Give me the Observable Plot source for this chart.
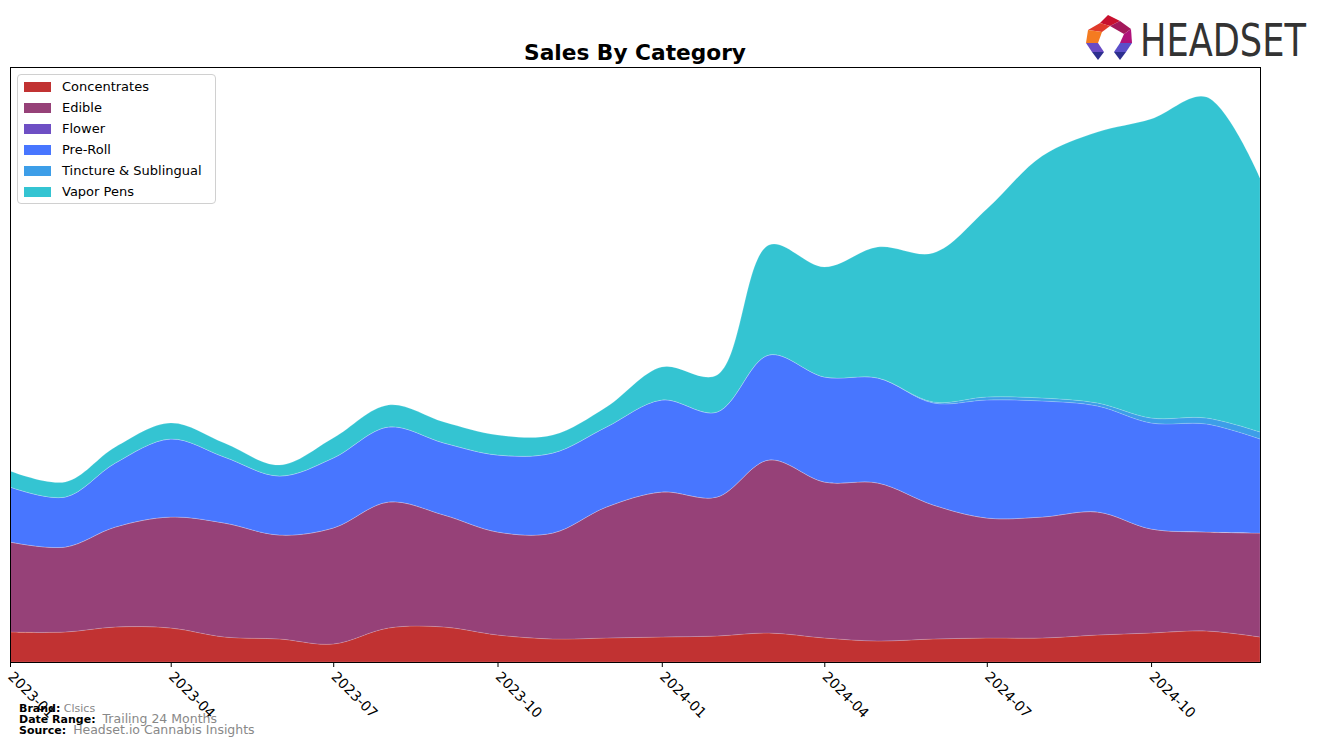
<!DOCTYPE html>
<html>
<head>
<meta charset="utf-8">
<script src="https://cdn.jsdelivr.net/npm/d3@7"></script>
<script src="https://cdn.jsdelivr.net/npm/@observablehq/plot@0.6"></script>
<style>
  html, body { margin: 0; padding: 0; background: #fff; }
  #wrap { position: relative; width: 1324px; height: 748px; font-family: "DejaVu Sans", sans-serif; overflow: hidden; }
  #chart { position: absolute; left: 0; top: 0; }
  #title { position: absolute; left: 10px; width: 1250px; top: 40px; text-align: center; font-weight: bold; font-size: 21.7px; color: #000; }
  #legend { position: absolute; left: 17px; top: 74px; width: 197px; height: 128px; border: 1px solid #d0d0d0; border-radius: 4px; background: rgba(255,255,255,0.85); }
  .li { position: absolute; left: 6px; height: 14px; font-size: 13px; line-height: 14px; color: #000; white-space: nowrap; }
  .sw { display: inline-block; width: 27px; height: 10px; vertical-align: -1px; margin-right: 11px; }
  #footer { position: absolute; left: 19px; top: 704px; font-size: 11px; line-height: 10px; }
  #footer b { color: #000; }
  #footer span { color: #888; }
  #logo { position: absolute; left: 1080px; top: 8px; }
</style>
</head>
<body>
<div id="wrap">
  <div id="chart"></div>
  <div id="title">Sales By Category</div>
  <div id="legend"></div>
  <div id="footer">
    <div><b>Brand:</b> <span style="font-size:11px">Clsics</span></div>
    <div><b>Date Range:</b> &nbsp;<span style="font-size:12.5px">Trailing 24 Months</span></div>
    <div><b>Source:</b> &nbsp;<span style="font-size:12.5px">Headset.io Cannabis Insights</span></div>
  </div>
  <svg id="logo" width="236" height="60" viewBox="0 0 236 60">
    <polygon points="28,7 40,13 30,18 20,15" fill="#c8102e"/>
    <polygon points="40,13 51,21 44,26 30,18" fill="#a3195b"/>
    <polygon points="20,15 30,18 22,24 8,22" fill="#e03a2a"/>
    <polygon points="8,22 22,24 18,35 6,35" fill="#f47b20"/>
    <polygon points="44,26 51,21 52,35 40,35" fill="#b0127a"/>
    <polygon points="6,35 18,35 24,44 12,44" fill="#6a4bc4"/>
    <polygon points="12,44 24,44 18,52" fill="#2d2f8f"/>
    <polygon points="40,35 52,35 46,44 34,44" fill="#5b4fc9"/>
    <polygon points="34,44 46,44 40,52" fill="#2d2f8f"/>
    <text transform="translate(60,48) scale(0.8,1)" font-family="DejaVu Sans, sans-serif" font-size="44" fill="#333">HEADSET</text>
  </svg>
</div>
<script>
const months = ["2023-01","2023-02","2023-03","2023-04","2023-05","2023-06","2023-07","2023-08","2023-09","2023-10","2023-11","2023-12",
                "2024-01","2024-02","2024-03","2024-04","2024-05","2024-06","2024-07","2024-08","2024-09","2024-10","2024-11","2024-12"];
const categories = ["Concentrates","Edible","Flower","Pre-Roll","Tincture & Sublingual","Vapor Pens"];
const colors = ["#c13232","#964178","#6e4fc4","#4876ff","#3d9ee8","#34c4d2"];

const concentrates = [30,30,35,34,25,23,18,34,35,27,23,24,25,26,29,24,21,23,24,24,27,29,31,25];
const edible       = [90,85,100,111,114,104,116,126,112,103,106,131,145,139,173,156,158,134,120,121,123,104,99,104];
const flower       = [0,0,0,0,0,0,0,0,0,0,0,0,0,0,0,0,0,0,0,0,0,0,0,0];
const preRoll      = [55,50,64,78,66,59,70,75,72,77,80,80,92,85,105,105,105,102,118,116,106,106,108,94];
const tincture     = [0,0,0,0,0,0,0,0,0,0,0,0,0,0,0,0,0,1,3,3,3,5,6,7];
const vaporPens    = [16,15,16,16,14,11,20,22,21,20,18,20,33,37,110,110,131,149,188,242,271,299,321,254];
const tickLabels   = ["2023-01","2023-04","2023-07","2023-10","2024-01","2024-04","2024-07","2024-10"];

const series = [concentrates, edible, flower, preRoll, tincture, vaporPens];
const parse = d3.utcParse("%Y-%m");
const data = [];
categories.forEach((c, i) => {
  months.forEach((m, j) => data.push({date: parse(m), category: c, value: series[i][j]}));
});

const chart = Plot.plot({
  width: 1324,
  height: 748,
  marginLeft: 10,
  marginRight: 64,
  marginTop: 67,
  marginBottom: 86,
  style: {fontFamily: "DejaVu Sans, sans-serif", fontSize: "14px", background: "transparent"},
  x: {type: "utc", domain: [parse(months[0]), parse(months[months.length - 1])]},
  y: {domain: [0, 595], axis: null},
  color: {domain: categories, range: colors},
  marks: [
    Plot.areaY(data, {x: "date", y: "value", fill: "category", curve: "catmull-rom", stroke: "#ffffff", strokeOpacity: 0.25, strokeWidth: 0.6}),
    Plot.axisX({ticks: tickLabels.map(parse), tickFormat: d3.utcFormat("%Y-%m"), tickRotate: 45, tickSize: 5, fontSize: 14, label: null, color: "#000"}),
    Plot.frame({stroke: "#000", strokeWidth: 1})
  ]
});
document.getElementById("chart").appendChild(chart);

const legend = document.getElementById("legend");
categories.forEach((c, i) => {
  const row = document.createElement("div");
  row.className = "li";
  row.style.top = (5 + i * 21) + "px";
  const sw = document.createElement("span");
  sw.className = "sw";
  sw.style.background = colors[i];
  row.appendChild(sw);
  row.appendChild(document.createTextNode(c));
  legend.appendChild(row);
});
</script>
</body>
</html>
